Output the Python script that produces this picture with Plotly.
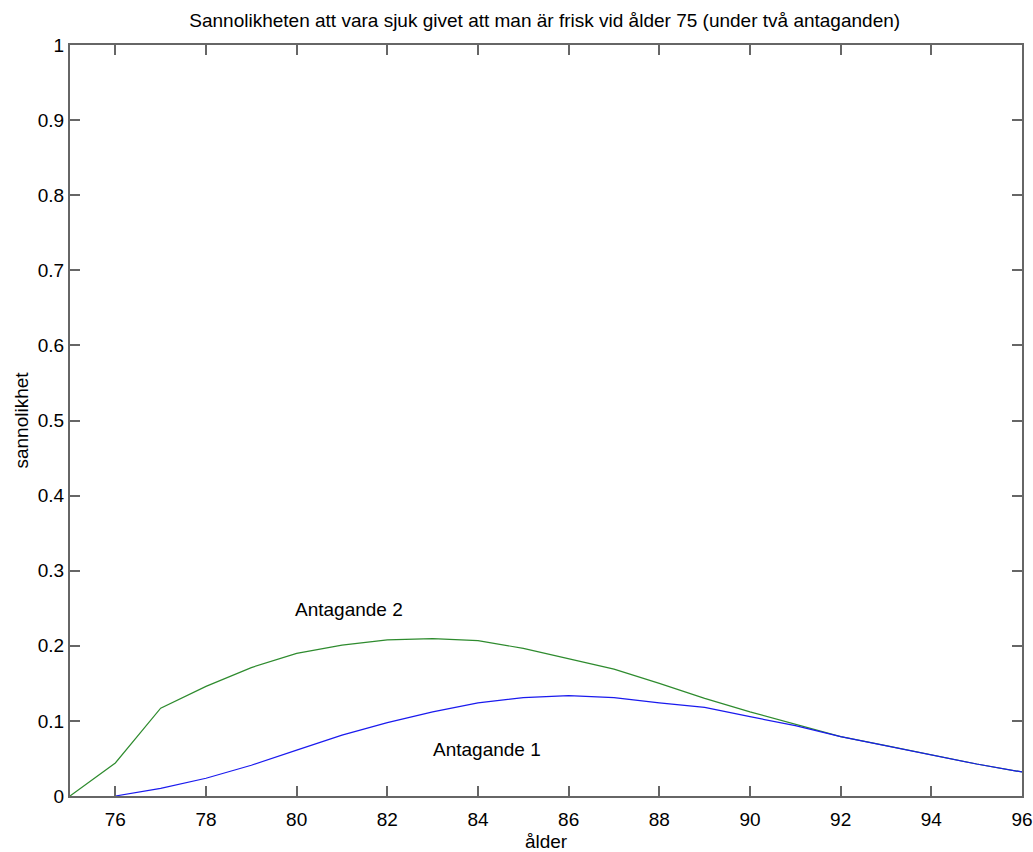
import plotly.graph_objects as go

# Ages (years)
ages_a2 = [75, 76, 77, 78, 79, 80, 81, 82, 83, 84, 85, 86, 87, 88, 89, 90, 91, 92, 93, 94, 95, 96]
ages_a1 = [76, 77, 78, 79, 80, 81, 82, 83, 84, 85, 86, 87, 88, 89, 90, 91, 92, 93, 94, 95, 96]

# Probability of being ill given healthy at age 75
p_antagande2 = [0.0, 0.044, 0.117, 0.146, 0.171, 0.190, 0.201, 0.208, 0.2095, 0.207, 0.1965,
                0.183, 0.169, 0.150, 0.130, 0.112, 0.095, 0.079, 0.067, 0.0546, 0.0426, 0.032]
p_antagande1 = [0.0, 0.0102, 0.0236, 0.041, 0.061, 0.081, 0.0977, 0.112, 0.124, 0.131, 0.1336,
                0.131, 0.124, 0.118, 0.1056, 0.0937, 0.079, 0.067, 0.0546, 0.0426, 0.032]

x_ticks = [76, 78, 80, 82, 84, 86, 88, 90, 92, 94, 96]
y_ticks = [0, 0.1, 0.2, 0.3, 0.4, 0.5, 0.6, 0.7, 0.8, 0.9, 1]
y_tick_text = ["0", "0.1", "0.2", "0.3", "0.4", "0.5", "0.6", "0.7", "0.8", "0.9", "1"]

font_family = "Liberation Sans, Arial, sans-serif"
font_size = 19
axis_color = "#666666"

fig = go.Figure()
fig.add_trace(go.Scatter(x=ages_a2, y=p_antagande2, mode="lines",
                         line=dict(color="#2e8b2e", width=1.2), name="Antagande 2"))
fig.add_trace(go.Scatter(x=ages_a1, y=p_antagande1, mode="lines",
                         line=dict(color="#1a1aee", width=1.2), name="Antagande 1"))

fig.add_annotation(x=81.15, y=0.249, text="Antagande 2", showarrow=False,
                   font=dict(family=font_family, size=font_size, color="black"))
fig.add_annotation(x=84.2, y=0.0613, text="Antagande 1", showarrow=False,
                   font=dict(family=font_family, size=font_size, color="black"))

fig.update_layout(
    width=1033, height=852,
    margin=dict(l=70, r=11, t=45, b=56, autoexpand=False),
    paper_bgcolor="white", plot_bgcolor="white",
    showlegend=False,
    font=dict(family=font_family, size=font_size, color="black"),
    title=dict(text="Sannolikheten att vara sjuk givet att man är frisk vid ålder 75 (under två antaganden)",
               x=0.5273, xanchor="center", y=0.976, yanchor="middle",
               font=dict(family=font_family, size=font_size, color="black")),
)
fig.update_xaxes(
    range=[75, 96], tickvals=x_ticks, ticktext=[str(v) for v in x_ticks],
    showgrid=False, zeroline=False, showline=True, linecolor=axis_color, linewidth=2,
    mirror="ticks", ticks="inside", ticklen=10, tickcolor=axis_color, tickwidth=1.5,
    ticklabelstandoff=5,
    title=dict(text="ålder", standoff=8, font=dict(size=font_size)),
    tickfont=dict(size=font_size), automargin=False,
)
fig.update_yaxes(
    range=[0, 1], tickvals=y_ticks, ticktext=y_tick_text,
    showgrid=False, zeroline=False, showline=True, linecolor=axis_color, linewidth=2,
    mirror="ticks", ticks="inside", ticklen=10, tickcolor=axis_color, tickwidth=1.5,
    title=dict(text="sannolikhet", standoff=4, font=dict(size=font_size)),
    tickfont=dict(size=font_size), automargin=False,
)

fig.write_html("out.html")
